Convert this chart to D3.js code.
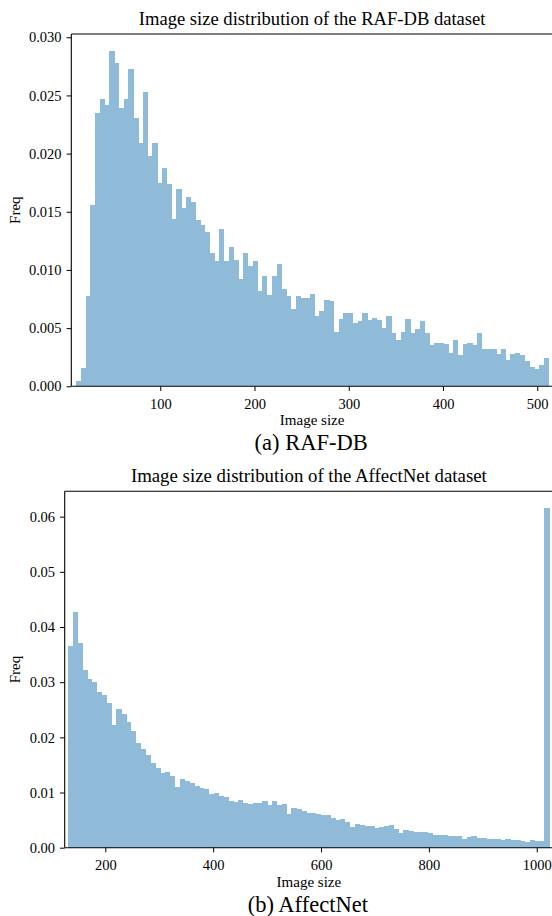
<!DOCTYPE html>
<html>
<head>
<meta charset="utf-8">
<script src="https://cdn.jsdelivr.net/npm/d3@7/dist/d3.min.js"></script>
<style>
  html, body { margin: 0; padding: 0; background: #fff; }
  svg { display: block; }
  text { font-family: "Liberation Serif", "Times New Roman", serif; fill: #000; }
</style>
</head>
<body>
<svg id="chart" width="552" height="916"></svg>
<script>
// ---------- DATA ----------
// RAF-DB: histogram frequencies (99 visible bins)
const rafBinStart = 10.56;
const rafBinWidth = 5.066;
const rafValues = [
  0.00046, 0.00158, 0.00775, 0.0156, 0.0235, 0.0247, 0.0242, 0.0288, 0.0278, 0.0239,
  0.0247, 0.0273, 0.0231, 0.0209, 0.0253, 0.0198, 0.0209, 0.0175, 0.0188, 0.0174,
  0.0144, 0.0170, 0.0153, 0.0163, 0.0158, 0.0143, 0.0139, 0.0133, 0.0115, 0.0108,
  0.0135, 0.0108, 0.0120, 0.01084, 0.00918, 0.0115, 0.0103, 0.01073, 0.00815, 0.00952,
  0.00789, 0.00944, 0.01047, 0.00832, 0.00772, 0.00668, 0.00772, 0.00763, 0.00763, 0.00797,
  0.00608, 0.00651, 0.00746, 0.00737, 0.00470, 0.00582, 0.00634, 0.00634, 0.00548, 0.00557,
  0.00634, 0.00574, 0.00591, 0.00574, 0.00505, 0.00608, 0.00462, 0.00402, 0.00470, 0.00582,
  0.00462, 0.00496, 0.00565, 0.00462, 0.00359, 0.00376, 0.00376, 0.00367, 0.00290, 0.00402,
  0.00273, 0.00367, 0.00376, 0.00359, 0.00462, 0.00324, 0.00324, 0.00324, 0.00281, 0.00324,
  0.00229, 0.00281, 0.00290, 0.00273, 0.00221, 0.00169, 0.00152, 0.00186, 0.00247
];
const rafXDomain = [5.6, 519.9];
const rafYDomain = [0, 0.03028];
const rafXTicks = [100, 200, 300, 400, 500];
const rafYTicks = [0, 0.005, 0.010, 0.015, 0.020, 0.025, 0.030];

// AffectNet: histogram frequencies (99 visible bins)
const affBinStart = 130.2;
const affBinWidth = 9.02;
const affValues = [
  0.03656, 0.04272, 0.0371, 0.0322, 0.0306, 0.0300, 0.0282, 0.0277, 0.0262, 0.0222,
  0.0251, 0.0242, 0.0228, 0.0211, 0.0190, 0.0179, 0.0168, 0.0153, 0.0144, 0.0135,
  0.0137, 0.0130, 0.0110, 0.0124, 0.0121, 0.0117, 0.0112, 0.0108, 0.0106, 0.0097,
  0.0099, 0.0094, 0.0091, 0.0085, 0.00833, 0.00870, 0.00815, 0.00797, 0.00815, 0.00815,
  0.00851, 0.00779, 0.00851, 0.00779, 0.00797, 0.00616, 0.00725, 0.00707, 0.00670, 0.00634,
  0.00634, 0.00616, 0.00598, 0.00598, 0.00543, 0.00507, 0.00525, 0.00471, 0.00380, 0.00435,
  0.00417, 0.00399, 0.00399, 0.00362, 0.00380, 0.00385, 0.0041, 0.0034, 0.0027, 0.0032,
  0.0030, 0.0028, 0.0028, 0.0028, 0.0027, 0.0023, 0.0023, 0.0023, 0.0021, 0.0021,
  0.0021, 0.0016, 0.0019, 0.0021, 0.0018, 0.0018, 0.0016, 0.0016, 0.0016, 0.0014,
  0.0016, 0.0014, 0.0014, 0.0012, 0.0010, 0.0014, 0.0012, 0.0012, 0.0615
];
const affXDomain = [124.7, 1035.7];
const affYDomain = [0, 0.0646];
const affXTicks = [200, 400, 600, 800, 1000];
const affYTicks = [0, 0.01, 0.02, 0.03, 0.04, 0.05, 0.06];

const titles = ["Image size distribution of the RAF-DB dataset",
                "Image size distribution of the AffectNet dataset"];
const captions = ["(a) RAF-DB", "(b) AffectNet"];
const xLabel = "Image size";
const yLabel = "Freq";

// ---------- DRAW ----------
const svg = d3.select("#chart");
const barColor = "#8fbbd9";
const W = 552;

function drawPanel(cfg) {
  const { left, right, top, bottom, values, binStart, binWidth,
          xDomain, yDomain, xTicks, yTicks, yFmt, title, caption, titleWidth } = cfg;
  const x = d3.scaleLinear().domain(xDomain).range([left, right]);
  const y = d3.scaleLinear().domain(yDomain).range([bottom, top]);
  const g = svg.append("g");

  const bins = values.map((v, i) => ({ x0: binStart + i * binWidth, x1: binStart + (i + 1) * binWidth, v }));
  g.append("g").attr("shape-rendering", "crispEdges")
    .selectAll("rect").data(bins).join("rect")
    .attr("x", d => x(d.x0))
    .attr("width", d => Math.max(0, x(d.x1) - x(d.x0)) + 0.5)
    .attr("y", d => y(d.v))
    .attr("height", d => y(0) - y(d.v))
    .attr("fill", barColor);

  const xAxis = d3.axisBottom(x).tickValues(xTicks).tickSize(4.7).tickPadding(5).tickFormat(d3.format("d"));
  const yAxis = d3.axisLeft(y).tickValues(yTicks).tickSize(4.7).tickPadding(5).tickFormat(d3.format(yFmt));

  const gx = g.append("g").attr("transform", `translate(0,${bottom})`).call(xAxis);
  const gy = g.append("g").attr("transform", `translate(${left},0)`).call(yAxis);
  [gx, gy].forEach(a => {
    a.select(".domain").remove();
    a.selectAll("line").attr("stroke", "#000").attr("stroke-width", 1);
    a.selectAll("text").style("font-size", "14.5px").attr("fill", "#000");
  });
  gx.selectAll("text").attr("dy", "0.9em");

  // spines (top, left, bottom); right spine is beyond the canvas
  g.append("line").attr("x1", left).attr("x2", W).attr("y1", top).attr("y2", top)
    .attr("stroke", "#000").attr("stroke-width", 1.1);
  g.append("line").attr("x1", left).attr("x2", W).attr("y1", bottom).attr("y2", bottom)
    .attr("stroke", "#000").attr("stroke-width", 1.1);
  g.append("line").attr("x1", left).attr("x2", left).attr("y1", top).attr("y2", bottom)
    .attr("stroke", "#000").attr("stroke-width", 1.1);

  const cx = (left + W) / 2 + 0.5;
  const t = g.append("text").attr("x", cx).attr("y", top - 9)
    .attr("text-anchor", "middle").style("font-size", "16px").text(title);
  const tw = t.node().getComputedTextLength();
  t.style("font-size", (16 * titleWidth / tw).toFixed(2) + "px");

  g.append("text").attr("x", cx).attr("y", bottom + 39)
    .attr("text-anchor", "middle").style("font-size", "15px").text(xLabel);

  g.append("text").attr("transform", `translate(20,${(top + bottom) / 2}) rotate(-90)`)
    .attr("text-anchor", "middle").style("font-size", "15px").text(yLabel);

  g.append("text").attr("x", cx - 1).attr("y", bottom + 64)
    .attr("text-anchor", "middle").style("font-size", "22.5px").text(caption);
}

drawPanel({
  left: 71.3, right: 556, top: 34, bottom: 386.3,
  values: rafValues, binStart: rafBinStart, binWidth: rafBinWidth,
  xDomain: rafXDomain, yDomain: rafYDomain, xTicks: rafXTicks, yTicks: rafYTicks,
  yFmt: ".3f", title: titles[0], caption: captions[0], titleWidth: 347
});
drawPanel({
  left: 64.7, right: 556, top: 491.3, bottom: 847.7,
  values: affValues, binStart: affBinStart, binWidth: affBinWidth,
  xDomain: affXDomain, yDomain: affYDomain, xTicks: affXTicks, yTicks: affYTicks,
  yFmt: ".2f", title: titles[1], caption: captions[1], titleWidth: 356
});
</script>
</body>
</html>
